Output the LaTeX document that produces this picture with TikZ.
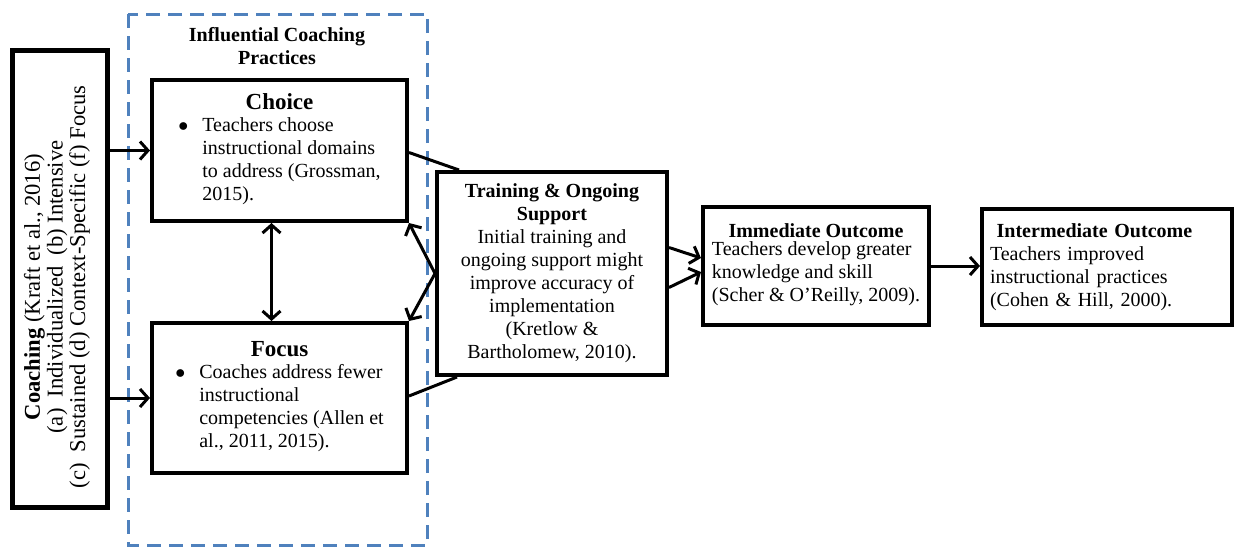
\documentclass[tikz,border=0pt]{standalone}
\usepackage{fontspec}
\setmainfont{Liberation Serif}
\usetikzlibrary{arrows.meta}

\definecolor{dashblue}{HTML}{4F81BD}

\tikzset{
    box/.style={draw, line width=2pt, align=center, inner sep=2pt,
        font=\fontsize{10}{11.5}\selectfont},
    arr/.style={line width=1.5pt, -{Straight Barb[length=4pt,width=9pt]}},
    dblarr/.style={line width=1.5pt, {Straight Barb[length=4pt,width=9pt]}-{Straight Barb[length=4pt,width=9pt]}},
    link/.style={line width=1.5pt},
    dashbox/.style={dashblue, line width=1.5pt, dash pattern=on 7pt off 4pt}
}

\begin{document}
\begin{tikzpicture}[x=0.5pt,y=-0.5pt]
    \useasboundingbox (0,0) rectangle (1235,548);
    \draw[dashbox] (128,14) rectangle (427,545);

    \node[box, line width=2.5pt, minimum width=47.5pt, minimum height=228.5pt] at (59.5,278.5)(coach) {};
    \node[rotate=90, align=center, font=\fontsize{11.3}{10}\selectfont] at (57,287)(coachtext)
        {\textbf{Coaching} (Kraft et al., 2016)\\
         (a)\ \ Individualized\ \ (b) Intensive\\
         (c)\ \ Sustained (d) Context-Specific (f) Focus};

    \node[align=center, font=\bfseries\fontsize{10}{11.5}\selectfont] at (277,46)(title) {Influential Coaching\\Practices};

    \node[box, minimum width=127.5pt, minimum height=70.5pt] at (279.5,150.5)(choice)
        {{\fontsize{11.5}{12}\selectfont\textbf{Choice}}\\[2pt]
         \begin{tabular}{@{}p{12pt}@{}l@{}}
         $\bullet$ & Teachers choose\\
                   & instructional domains\\
                   & to address (Grossman,\\
                   & 2015).
         \end{tabular}};
    \node[box, minimum width=127.5pt, minimum height=75pt] at (279.5,398)(focus)
        {{\fontsize{11.5}{12}\selectfont\textbf{Focus}}\\[2pt]
         \begin{tabular}{@{}p{12pt}@{}l@{}}
         $\bullet$ & Coaches address fewer\\
                   & instructional\\
                   & competencies (Allen et\\
                   & al., 2011, 2015).
         \end{tabular}};

    \node[box, minimum width=115pt, minimum height=101.5pt] at (552,273.5)(training)
        {\textbf{Training \& Ongoing}\\
         \textbf{Support}\\
         Initial training and\\
         ongoing support might\\
         improve accuracy of\\
         implementation\\
         (Kretlow \&\\
         Bartholomew, 2010).};

    \node[box, minimum width=113pt, minimum height=59pt] at (816,266)(immediate)
        {\textbf{Immediate Outcome}\\
         \begin{tabular}{@{}l@{}}
         Teachers develop greater\\
         knowledge and skill\\
         (Scher \& O’Reilly, 2009).
         \end{tabular}};
    \node[box, align=left, minimum width=125pt, minimum height=58pt, text width=117pt] at (1107,267)(intermediate)
        {\ \textbf{Intermediate Outcome}\\
         Teachers improved\\
         instructional practices\\
         (Cohen \& Hill, 2000).};

    % connectors
    \draw[arr] (coach.east |- choice.west) -- (choice.west);
    \draw[arr] (coach.east |- focus.west) -- (focus.west);
    \draw[dblarr] ([xshift=-4pt]choice.south) -- ([xshift=-4pt]focus.north);
    \draw[link] ([yshift=-1pt]choice.east) -- ([xshift=12pt]training.north west);
    \draw[link] ([yshift=1pt]focus.east) -- ([xshift=11pt]training.south west);
    \draw[arr] (training.west) -- (choice.south east);
    \draw[arr] (training.west) -- (focus.north east);
    \draw[arr] ([yshift=13pt]training.east) -- ([yshift=4pt]immediate.west);
    \draw[arr] ([yshift=-7pt]training.east) -- ([yshift=-3pt]immediate.west);
    \draw[arr] (immediate.east) -- (immediate.east -| intermediate.west);
\end{tikzpicture}
\end{document}
